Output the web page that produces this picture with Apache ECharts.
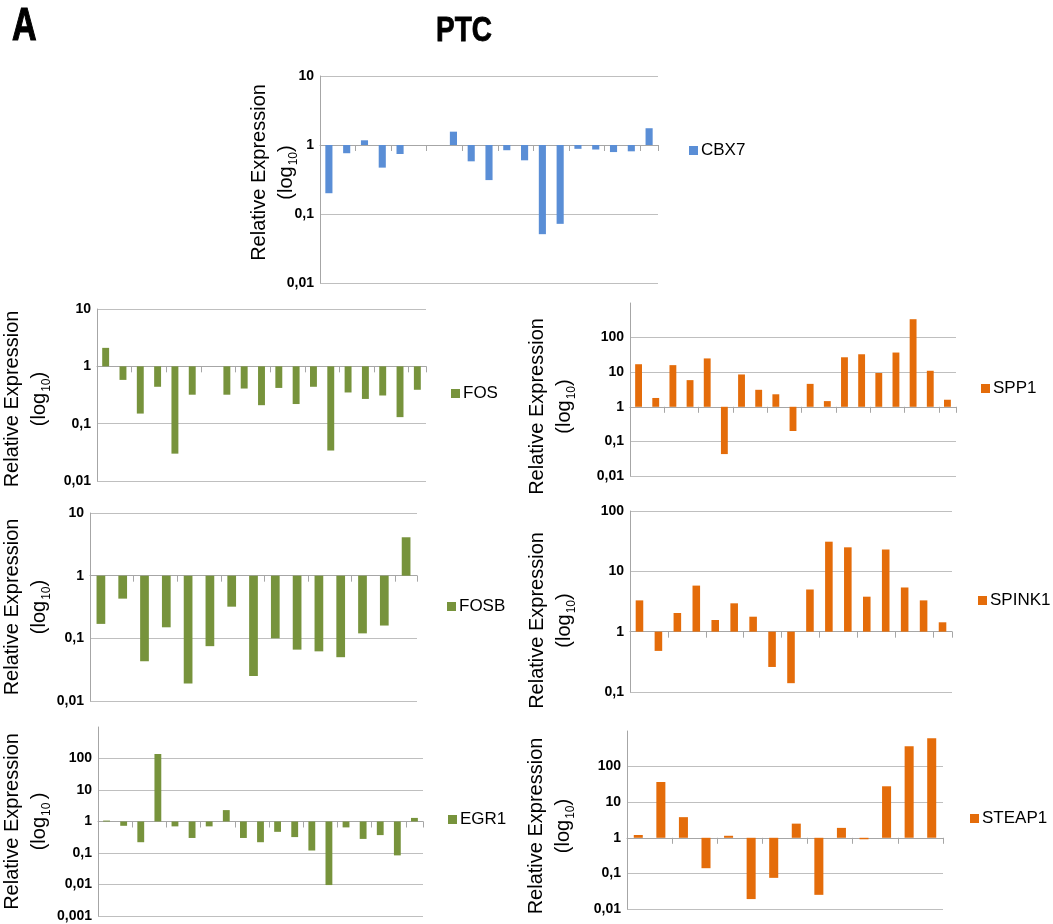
<!DOCTYPE html>
<html>
<head>
<meta charset="utf-8">
<script src="https://cdn.jsdelivr.net/npm/echarts@6/dist/echarts.min.js"></script>
<style>
  html, body { margin: 0; padding: 0; background: #fff; }
  #ptc-charts { width: 1053px; height: 924px; }
</style>
</head>
<body>
<div id="ptc-charts"></div>

<script type="application/javascript">
// relative expression per sample (null = no bar)
var cbx7 = [0.20, 0.76, 1.17, 0.47, 0.74, null, null, 1.56, 0.58, 0.31, 0.84, 0.60, 0.051, 0.072, 0.88, 0.86, 0.79, 0.81, 1.75];
var fos = [2.1, 0.58, 0.15, 0.44, 0.030, 0.32, null, 0.32, 0.41, 0.21, 0.42, 0.22, 0.44, 0.034, 0.35, 0.27, 0.31, 0.13, 0.39];
var fosb = [0.17, 0.43, 0.043, 0.15, 0.019, 0.075, 0.32, 0.025, 0.10, 0.066, 0.062, 0.050, 0.12, 0.16, 4.1];
var egr1 = [1.07, 0.73, 0.22, 139, 0.70, 0.30, 0.70, 2.3, 0.30, 0.22, 0.47, 0.32, 0.12, 0.0096, 0.65, 0.28, 0.37, 0.084, 1.3];
var spp1 = [17, 1.8, 16, 5.9, 25, 0.043, 8.6, 3.1, 2.3, 0.20, 4.6, 1.46, 27, 33, 9.5, 37, 340, 11, 1.6];
var spink1 = [3.3, 0.48, 2.04, 5.8, 1.56, 2.95, 1.77, 0.26, 0.14, 5.0, 31, 25, 3.8, 23, 5.4, 3.3, 1.43];
var steap1 = [1.2, 37, 3.8, 0.14, 1.14, 0.019, 0.075, 2.5, 0.025, 1.9, 0.91, 28, 370, 630];

// axis ranges (log10)
var ranges = {
  CBX7: [0.01, 10], FOS: [0.01, 10], FOSB: [0.01, 10], EGR1: [0.001, 1000],
  SPP1: [0.01, 1000], SPINK1: [0.1, 100], STEAP1: [0.01, 1000]
};

var BLUE = '#5a8ed6', GREEN = '#77933c', ORANGE = '#e46c0a';

// panel layout: grid box, legend anchor, axis-name gap, name shift (px, + = down)
var panels = [
  { name: 'CBX7',   data: cbx7,   color: BLUE,   box: [320, 76, 338, 207], leg: [689, 152], gap: 20, shift: -7, hideTop: false },
  { name: 'FOS',    data: fos,    color: GREEN,  box: [97, 309, 329, 172], leg: [451, 395], gap: 44, shift: 4, hideTop: false },
  { name: 'FOSB',   data: fosb,   color: GREEN,  box: [90, 513, 327, 188], leg: [447, 608], gap: 37, shift: 0, hideTop: false },
  { name: 'EGR1',   data: egr1,   color: GREEN,  box: [98, 727, 325, 189], leg: [448, 821], gap: 45, shift: 0, hideTop: true, sub: '10 ' },
  { name: 'SPP1',   data: spp1,   color: ORANGE, box: [630, 303, 326, 173], leg: [981, 390], gap: 52, shift: 17, hideTop: true },
  { name: 'SPINK1', data: spink1, color: ORANGE, box: [630, 511, 322, 181], leg: [978, 602], gap: 52, shift: 19, hideTop: false },
  { name: 'STEAP1', data: steap1, color: ORANGE, box: [627, 731, 316, 178], leg: [970, 820], gap: 50, shift: 6, hideTop: true }
];

var FONT = '"Liberation Sans", Arial, sans-serif';

var option = {
  backgroundColor: '#fff',
  animation: false,
  graphic: [
    { type: 'text', x: 12, y: 27, scaleX: 0.74, style: { text: 'A', font: 'bold 46px "Liberation Sans", Arial, sans-serif', fill: '#000', stroke: '#000', lineWidth: 1.2, verticalAlign: 'middle' } },
    { type: 'text', x: 436, y: 31, scaleX: 0.8, style: { text: 'PTC', font: 'bold 35px "Liberation Sans", Arial, sans-serif', fill: '#000', stroke: '#000', lineWidth: 0.8, verticalAlign: 'middle' } }
  ],
  grid: [], xAxis: [], yAxis: [], series: [], legend: []
};

panels.forEach(function (p, i) {
  var mn = ranges[p.name][0], mx = ranges[p.name][1];
  var decadesBelow = Math.log10(1) - Math.log10(mn);
  var decades = Math.log10(mx) - Math.log10(mn);
  var cats = p.data.map(function (_, k) { return 'S' + (k + 1); });
  var pad = p.shift >= 0 ? [0, 2 * p.shift, 0, 0] : [0, 0, 0, -2 * p.shift];

  option.grid.push({ left: p.box[0], top: p.box[1], width: p.box[2], height: p.box[3], containLabel: false });

  option.xAxis.push({
    type: 'category',
    gridIndex: i,
    data: cats,
    position: 'bottom',
    offset: -p.box[3] * decadesBelow / decades,
    axisLine: { show: true, lineStyle: { color: '#a6a6a6', width: 1 } },
    axisTick: { show: true, length: 6, lineStyle: { color: '#a6a6a6' } },
    axisLabel: { show: false },
    splitLine: { show: false }
  });

  option.yAxis.push({
    type: 'log',
    logBase: 10,
    gridIndex: i,
    min: mn,
    max: mx,
    interval: 1,
    name: '{t|Relative Expression}\n{t|(log}{s|' + (p.sub || '10') + '}{t|)}',
    nameLocation: 'middle',
    nameRotate: 90,
    nameGap: p.gap,
    nameMoveOverlap: false,
    nameTextStyle: {
      padding: pad,
      rich: {
        t: { fontFamily: FONT, fontSize: 20, color: '#000', lineHeight: 27 },
        s: { fontFamily: FONT, fontSize: 12, color: '#000', lineHeight: 27, verticalAlign: 'bottom', padding: [0, 0, 0, 1] }
      }
    },
    axisLine: { show: true, lineStyle: { color: '#a6a6a6' } },
    axisTick: { show: false },
    axisLabel: {
      fontFamily: FONT, fontWeight: 'bold', fontSize: 14, color: '#000', margin: 6,
      showMaxLabel: !p.hideTop,
      formatter: function (v) { return String(+v.toPrecision(6)).replace('.', ','); }
    },
    splitLine: { show: true, showMaxLine: !p.hideTop, lineStyle: { color: '#bfbfbf', width: 1 } }
  });

  option.series.push({
    name: p.name,
    type: 'bar',
    xAxisIndex: i,
    yAxisIndex: i,
    data: p.data,
    barWidth: '40%',
    itemStyle: { color: p.color },
    emphasis: { disabled: true }
  });

  option.legend.push({
    data: [p.name],
    left: p.leg[0],
    top: p.leg[1] - 10,
    padding: 0,
    icon: 'rect',
    itemWidth: 9,
    itemHeight: 9,
    itemGap: 5,
    selectedMode: false,
    textStyle: { fontFamily: FONT, fontSize: 17, color: '#000', padding: [0, 0, 0, -2] }
  });
});

var chart = echarts.init(document.getElementById('ptc-charts'), null, { renderer: 'canvas' });
chart.setOption(option);
</script>
</body>
</html>
